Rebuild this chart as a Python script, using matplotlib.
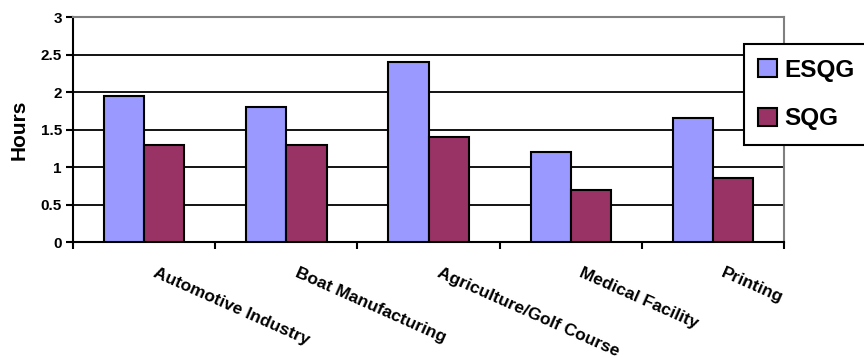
import matplotlib.pyplot as plt
import matplotlib.transforms as mtransforms
import numpy as np

# hours per sector for each guide
sectors = ["Automotive Industry", "Boat Manufacturing", "Agriculture/Golf Course",
           "Medical Facility", "Printing"]
esqg_hours = [1.95, 1.8, 2.4, 1.2, 1.65]
sqg_hours = [1.3, 1.3, 1.4, 0.7, 0.85]

plt.rcParams['font.family'] = ['Liberation Sans', 'DejaVu Sans']
plt.rcParams['font.weight'] = 'bold'

fig = plt.figure(figsize=(8.64, 3.58), dpi=100)
ax = fig.add_axes([0.0845, 0.324, 0.823, 0.6285])

x = np.arange(len(sectors))
w = 0.283
ax.bar(x - w / 2, esqg_hours, w, color='#9999FF', edgecolor='black', linewidth=1.5,
       label='ESQG', zorder=3)
ax.bar(x + w / 2, sqg_hours, w, color='#993366', edgecolor='black', linewidth=1.5,
       label='SQG', zorder=3)

ax.set_ylim(0, 3)
ax.set_xlim(-0.5, len(sectors) - 0.5)
ax.set_yticks(np.arange(0, 3.01, 0.5))
ax.set_yticklabels(['0', '0.5', '1', '1.5', '2', '2.5', '3'])
for lab in ax.get_yticklabels():
    lab.set_fontsize(11)
    lab.set_fontweight('bold')
ax.yaxis.grid(True, color='black', linewidth=1.3, zorder=0)
ax.set_axisbelow(True)

# category labels at the centres, tick marks between groups
ax.set_xticks(x)
ax.set_xticklabels(sectors, rotation=-24, ha='left', va='top', rotation_mode='anchor',
                   fontsize=12.5, fontweight='bold')
ax.tick_params(axis='x', length=0, pad=17)
shift = mtransforms.ScaledTranslation(9 / 72, 0, fig.dpi_scale_trans)
for lab in ax.get_xticklabels():
    lab.set_transform(lab.get_transform() + shift)
ax.set_xticks(np.arange(-0.5, len(sectors), 1), minor=True)
ax.tick_params(axis='x', which='minor', length=5, width=1.5, direction='out')
ax.tick_params(axis='y', length=5, width=1.5, direction='out', pad=3)

ax.spines['left'].set_linewidth(1.5)
ax.spines['bottom'].set_linewidth(1.5)
ax.spines['top'].set_color('#808080')
ax.spines['right'].set_color('#808080')
ax.spines['top'].set_linewidth(1.5)
ax.spines['right'].set_linewidth(1.5)
ax.spines['top'].set_zorder(4)

ax.set_ylabel('Hours', fontsize=15, fontweight='bold', labelpad=9)

leg = fig.legend(loc='upper left', bbox_to_anchor=(0.861, 0.877), frameon=True,
                 fancybox=False, framealpha=1, edgecolor='black',
                 prop={'size': 17.5, 'weight': 'bold'}, handlelength=0.75,
                 handleheight=0.75, handletextpad=0.3, labelspacing=1.05,
                 borderpad=0.6, borderaxespad=0)
leg.get_frame().set_linewidth(1.5)

fig.savefig('out.png', dpi=100)
